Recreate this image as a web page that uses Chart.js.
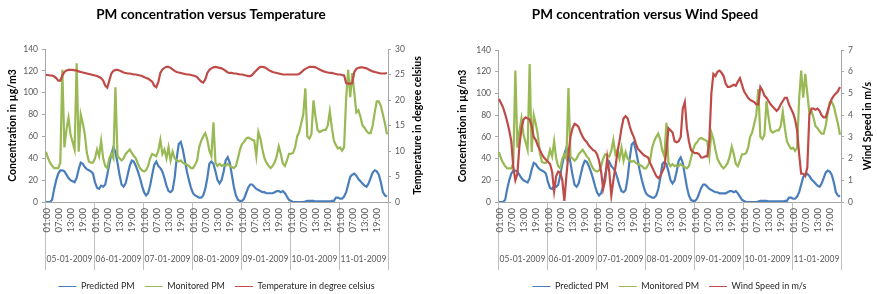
<!DOCTYPE html>
<html>
<head>
<meta charset="utf-8">
<script src="https://cdn.jsdelivr.net/npm/chart.js@4.4.1/dist/chart.umd.min.js"></script>
<style>
  html, body { margin: 0; padding: 0; background: #fff; }
  #wrap { position: relative; width: 877px; height: 294px; }
  canvas { position: absolute; top: 0; }
  #tempChart { left: 0; }
  #windChart { left: 440px; }
</style>
</head>
<body>
<div id="wrap">
  <canvas id="tempChart" width="440" height="294"></canvas>
  <canvas id="windChart" width="437" height="294"></canvas>
</div>
<script>
// categories
const days = ['05-01-2009', '06-01-2009', '07-01-2009', '08-01-2009', '09-01-2009', '10-01-2009', '11-01-2009'];
const hours = ['01:00', '02:00', '03:00', '04:00', '05:00', '06:00', '07:00', '08:00', '09:00', '10:00', '11:00', '12:00',
               '13:00', '14:00', '15:00', '16:00', '17:00', '18:00', '19:00', '20:00', '21:00', '22:00', '23:00', '00:00'];
const shownHours = ['01:00', '07:00', '13:00', '19:00'];

// hourly series, one row per day
const predictedPM = [
  0, 0, 0, 2, 12, 20, 26, 29, 29, 28, 25, 22, 20, 19, 18, 22, 30, 36, 35, 32, 30, 29, 28, 26,
  18, 13, 12, 15, 14, 16, 25, 35, 44, 50, 46, 36, 25, 16, 14, 17, 25, 33, 38, 37, 33, 28, 22, 15,
  9, 6, 8, 15, 25, 34, 37, 33, 31, 28, 22, 15, 10, 9, 11, 22, 40, 53, 55, 48, 38, 28, 20, 13,
  8, 6, 5, 4, 4, 6, 12, 22, 35, 37, 35, 28, 20, 17, 20, 28, 38, 41, 36, 25, 14, 6, 2, 1,
  1, 3, 8, 13, 16, 16, 14, 12, 11, 10, 9, 9, 8, 8, 8, 8, 9, 10, 10, 9, 10, 8, 5, 2,
  1, 0, 0, 0, 0, 0, 0, 0.5, 1, 1, 1, 1, 0.5, 0.5, 0.5, 0.5, 0.5, 0.5, 0.5, 0.5, 1, 1, 4, 4,
  3, 3, 5, 9, 16, 23, 25, 26, 24, 21, 19, 17, 15, 14, 17, 22, 27, 29, 28, 25, 18, 9, 6, 5
];
const monitoredPM = [
  46, 40, 36, 33, 31, 31, 31, 36, 121, 50, 66, 77, 62, 55, 48, 127, 46, 80, 72, 62, 45, 37, 36, 36,
  40, 48, 42, 56, 40, 33, 31, 40, 44, 40, 105, 42, 40, 38, 40, 44, 46, 48, 45, 42, 40, 35, 31, 29,
  28, 29, 33, 40, 44, 43, 42, 47, 57, 44, 48, 40, 50, 38, 46, 40, 38, 37, 38, 36, 35, 34, 33, 31,
  31, 34, 38, 50, 56, 60, 63, 57, 47, 42, 73, 36, 33, 35, 33, 34, 33, 35, 33, 32, 31, 33, 40, 48,
  53, 55, 58, 59, 58, 57, 56, 42, 64, 58, 48, 40, 36, 33, 31, 33, 36, 42, 51, 44, 35, 33, 38, 44,
  44, 45, 50, 60, 64, 72, 80, 104, 60, 58, 62, 93, 78, 66, 64, 65, 66, 66, 70, 83, 68, 56, 52, 49,
  50, 47, 50, 95, 121, 96, 118, 100, 82, 84, 78, 70, 68, 65, 63, 63, 70, 82, 92, 92, 88, 80, 72, 62
];
const temperature = [
  24.9, 24.9, 24.8, 24.8, 24.6, 24.3, 23.8, 23.8, 24.8, 25.5, 25.8, 25.9, 25.9, 25.9, 25.8, 25.8, 25.6, 25.5, 25.4, 25.3, 25.2, 25.1, 25.0, 24.9,
  24.8, 24.7, 24.5, 24.3, 23.8, 22.8, 22.4, 23.8, 25.2, 25.7, 25.9, 25.9, 25.8, 25.6, 25.4, 25.3, 25.2, 25.2, 25.1, 25.0, 25.0, 24.9, 24.8, 24.7,
  24.5, 24.3, 24.2, 23.9, 23.6, 22.8, 22.5, 23.5, 25.3, 26.0, 26.3, 26.5, 26.5, 26.3, 26.0, 25.7, 25.5, 25.4, 25.3, 25.2, 25.1, 25.0, 25.0, 24.9,
  24.8, 24.7, 24.5, 24.0, 23.6, 23.4, 24.0, 25.3, 25.9, 26.2, 26.4, 26.5, 26.4, 26.3, 26.2, 26.0, 25.7, 25.4, 25.3, 25.3, 25.2, 25.2, 25.1, 25.0,
  25.0, 24.9, 24.8, 24.7, 24.7, 24.9, 25.4, 25.8, 26.2, 26.5, 26.5, 26.4, 26.2, 25.9, 25.7, 25.5, 25.4, 25.3, 25.2, 25.1, 25.0, 25.0, 25.0, 25.0,
  25.0, 25.0, 25.0, 25.0, 25.1, 25.4, 25.8, 26.1, 26.3, 26.5, 26.5, 26.5, 26.4, 26.2, 26.0, 25.8, 25.6, 25.5, 25.4, 25.3, 25.3, 25.2, 25.1, 25.0,
  25.0, 24.9, 24.8, 23.3, 23.2, 23.2, 23.3, 25.5, 26.1, 26.3, 26.4, 26.4, 26.3, 26.2, 26.0, 25.8, 25.6, 25.5, 25.4, 25.3, 25.2, 25.2, 25.2, 25.3
];
const windSpeed = [
  4.75, 4.55, 4.35, 4.05, 3.7, 3.3, 2.8, 1.6, 1.0, 1.3, 2.6, 3.4, 3.8, 3.9, 3.85, 3.8, 3.5, 3.0, 2.85, 2.6, 2.4, 2.2, 2.05, 1.95,
  1.85, 1.75, 1.4, 0.5, 1.2, 1.4, 1.35, 1.0, 0.05, 1.2, 2.2, 3.0, 3.4, 3.6, 3.55, 3.45, 3.2, 3.0, 2.85, 2.75, 2.6, 2.5, 2.4, 2.35,
  2.2, 1.9, 1.4, 0.6, 1.0, 2.05, 1.4, 0.3, 1.0, 1.6, 2.3, 2.8, 3.4, 3.85, 3.95, 3.85, 3.5, 3.2, 3.0, 2.7, 2.45, 2.35, 2.25, 2.15,
  2.1, 2.05, 1.8, 1.6, 1.4, 1.2, 1.1, 1.2, 1.4, 1.6, 2.4, 3.4, 3.3, 3.2, 2.8, 2.75, 2.8, 3.0, 4.3, 4.6, 3.4, 2.8, 2.4, 2.3,
  2.25, 2.25, 2.2, 2.05, 2.05, 2.1, 2.1, 2.8, 5.0, 5.9, 5.8, 6.0, 6.05, 5.95, 5.8, 5.45, 5.3, 5.3, 5.35, 5.4, 5.35, 5.55, 5.7, 5.4,
  5.1, 4.95, 4.8, 4.7, 4.65, 4.6, 4.5, 4.5, 5.3, 5.15, 4.9, 4.8, 4.65, 4.5, 4.4, 4.3, 4.2, 4.3, 4.5, 4.65, 4.8, 4.8, 4.5, 4.3,
  4.1, 3.8, 3.3, 2.2, 1.3, 1.3, 1.2, 1.6, 4.0, 4.3, 4.3, 4.25, 4.3, 4.2, 4.0, 3.9, 3.9, 4.2, 4.5, 4.75, 4.9, 5.0, 5.1, 5.3
];

const labels = days.flatMap(d => hours.map(h => d + ' ' + h));

const BLUE = '#4a7ebb';
const GREEN = '#98b954';
const RED = '#be4b48';
const AXIS = '#a6a6a6';
const TXT = '#595959';
const FONT = 'Lato, "Liberation Sans", sans-serif';

Chart.defaults.font.family = FONT;

// chart title drawn at a given centre
const headingPlugin = {
  id: 'heading',
  afterDraw(chart, args, opts) {
    const ctx = chart.ctx;
    ctx.save();
    ctx.font = 'bold 13.5px ' + FONT;
    ctx.fillStyle = '#000';
    ctx.textAlign = 'center';
    ctx.textBaseline = 'middle';
    ctx.fillText(opts.text, opts.x, 15);
    ctx.restore();
  }
};

// right axis title, reading bottom to top like the excel one
const sideTitlePlugin = {
  id: 'sideTitle',
  afterDraw(chart, args, opts) {
    const ctx = chart.ctx;
    const a = chart.chartArea;
    ctx.save();
    ctx.translate(a.right + opts.offset, (a.top + a.bottom) / 2);
    ctx.rotate(-Math.PI / 2);
    ctx.font = 'bold 10.5px ' + FONT;
    ctx.fillStyle = '#000';
    ctx.textAlign = 'center';
    ctx.textBaseline = 'middle';
    ctx.fillText(opts.text, 0, 0);
    ctx.restore();
  }
};

// two level category axis: hours then dates, with day separators
const dateAxisPlugin = {
  id: 'dateAxis',
  afterDraw(chart) {
    const x = chart.scales.x;
    const ctx = chart.ctx;
    const step = x.width / labels.length;
    const top = x.top;
    const edge = d => x.getPixelForValue(d * hours.length) - step / 2;
    ctx.save();
    ctx.strokeStyle = '#bfbfbf';
    ctx.lineWidth = 1;
    ctx.beginPath();
    for (let d = 0; d <= days.length; d++) {
      const px = Math.round(edge(d)) + 0.5;
      ctx.moveTo(px, top);
      ctx.lineTo(px, top + 68);
    }
    ctx.stroke();

    ctx.fillStyle = TXT;
    ctx.font = '9.5px ' + FONT;
    ctx.textAlign = 'right';
    ctx.textBaseline = 'middle';
    labels.forEach((lab, i) => {
      const h = hours[i % hours.length];
      if (!shownHours.includes(h)) return;
      ctx.save();
      ctx.translate(x.getPixelForValue(i) + 0.5, top + 6);
      ctx.rotate(-Math.PI / 2);
      ctx.fillText(h, 0, 0);
      ctx.restore();
    });

    ctx.font = '8.5px ' + FONT;
    ctx.textAlign = 'center';
    days.forEach((d, k) => {
      ctx.fillText(d, (edge(k) + edge(k + 1)) / 2, top + 57);
    });
    ctx.restore();
  }
};

function buildChart(canvasId, opt) {
  return new Chart(document.getElementById(canvasId), {
    type: 'line',
    data: {
      labels: labels,
      datasets: [
        { label: 'Predicted PM', data: predictedPM, borderColor: BLUE, backgroundColor: BLUE, yAxisID: 'y', order: 3 },
        { label: 'Monitored PM', data: monitoredPM, borderColor: GREEN, backgroundColor: GREEN, yAxisID: 'y', order: 2 },
        { label: opt.seriesLabel, data: opt.series, borderColor: RED, backgroundColor: RED, yAxisID: 'y2', order: 1 }
      ]
    },
    options: {
      responsive: false,
      animation: false,
      layout: { padding: { top: opt.top, left: 0, right: 0, bottom: -7 } },
      elements: {
        point: { radius: 0 },
        line: { borderWidth: 2.2, tension: 0 }
      },
      scales: {
        x: {
          type: 'category',
          offset: true,
          ticks: { display: false },
          grid: { display: false },
          border: { color: AXIS },
          afterFit: s => { s.height = 70; }
        },
        y: {
          position: 'left',
          min: 0,
          max: 140,
          ticks: { stepSize: 20, color: TXT, font: { size: 8.5 }, padding: 4 },
          grid: { drawOnChartArea: false, tickLength: 3, color: AXIS },
          border: { color: AXIS },
          title: {
            display: true,
            text: 'Concentration in µg/m3',
            color: '#000',
            font: { size: 10.5, weight: 'bold' },
            padding: { top: opt.yTitlePad, bottom: 0 }
          },
          afterFit: s => { s.width = opt.yWidth; }
        },
        y2: {
          position: 'right',
          min: 0,
          max: opt.rightMax,
          ticks: { stepSize: opt.rightStep, color: TXT, font: { size: 8.5 }, padding: 4 },
          grid: { drawOnChartArea: false, tickLength: 3, color: AXIS },
          border: { color: AXIS },
          afterFit: s => { s.width = opt.y2Width; }
        }
      },
      plugins: {
        legend: {
          position: 'bottom',
          fullSize: false,
          labels: {
            usePointStyle: true,
            pointStyle: 'line',
            pointStyleWidth: 18,
            color: '#262626',
            font: { size: 9 },
            padding: 10,
            sort: (a, b) => a.datasetIndex - b.datasetIndex
          }
        },
        tooltip: { enabled: false },
        heading: { text: opt.title, x: opt.titleX },
        sideTitle: { text: opt.rightTitle, offset: opt.rightTitleOffset }
      }
    },
    plugins: [headingPlugin, sideTitlePlugin, dateAxisPlugin]
  });
}

buildChart('tempChart', {
  title: 'PM concentration versus Temperature',
  titleX: 211,
  seriesLabel: 'Temperature in degree celsius',
  series: temperature,
  rightTitle: 'Temperature in degree celsius',
  rightMax: 30,
  rightStep: 5,
  top: 49,
  yWidth: 45,
  y2Width: 52,
  yTitlePad: 6,
  rightTitleOffset: 30
});

buildChart('windChart', {
  title: 'PM concentration versus Wind Speed',
  titleX: 205,
  seriesLabel: 'Wind Speed in m/s',
  series: windSpeed,
  rightTitle: 'Wind Speed in m/s',
  rightMax: 7,
  rightStep: 1,
  top: 50,
  yWidth: 58,
  y2Width: 36,
  yTitlePad: 16,
  rightTitleOffset: 27
});
</script>
</body>
</html>
